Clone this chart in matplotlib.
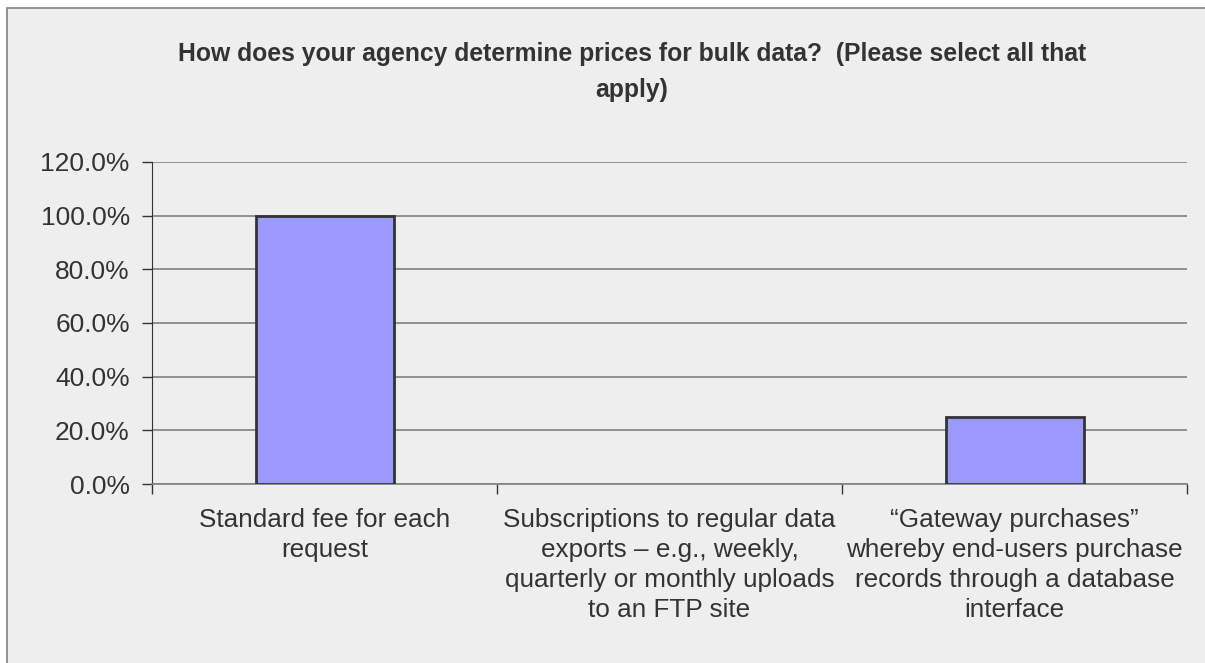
import matplotlib.pyplot as plt
from matplotlib.patches import Rectangle
from matplotlib.ticker import FuncFormatter, FixedLocator

categories = [
    "Standard fee for each\nrequest",
    "Subscriptions to regular data\nexports \u2013 e.g., weekly,\nquarterly or monthly uploads\nto an FTP site",
    "\u201cGateway purchases\u201d\nwhereby end-users purchase\nrecords through a database\ninterface",
]
shares = [1.0, 0.0, 0.25]
y_ticks = [0.0, 0.2, 0.4, 0.6, 0.8, 1.0, 1.2]
title = "How does your agency determine prices for bulk data?  (Please select all that\napply)"

plt.rcParams['font.family'] = ['Liberation Sans', 'DejaVu Sans']
text_color = '#333333'

W, H = 1205, 663
fig = plt.figure(figsize=(W / 100, H / 100), dpi=100, facecolor='white')

# chart area box with grey border (cut off at right/bottom in the original)
fig.patches.append(Rectangle((7 / W, -0.1), 1.2, 1 - 8 / H + 0.1,
                             transform=fig.transFigure, facecolor='#eeeeee',
                             edgecolor='#808080', linewidth=1.2, zorder=-5))

ax = fig.add_axes([152 / W, (H - 484) / H, (1187 - 152) / W, (484 - 162) / H])
ax.set_facecolor('none')

x = list(range(len(categories)))
# empty categories get no outline, as in the original
edges = ['#333333' if v > 0 else 'none' for v in shares]
ax.bar(x, shares, width=0.4, color='#9999ff', edgecolor=edges, linewidth=2, zorder=3)

ax.set_xlim(-0.5, len(categories) - 0.5)
ax.set_ylim(0, 1.2)
ax.set_yticks(y_ticks)
ax.yaxis.set_major_formatter(FuncFormatter(lambda v, p: f"{v * 100:.1f}%"))
ax.yaxis.grid(True, color='#808080', linewidth=1.2, zorder=1)
ax.set_axisbelow(True)

ax.set_xticks(x)
ax.set_xticklabels(categories, fontsize=18.8, color=text_color, linespacing=1.32)
ax.xaxis.set_minor_locator(FixedLocator([i - 0.5 for i in range(len(categories) + 1)]))
ax.tick_params(axis='x', which='major', length=0, pad=17)
ax.tick_params(axis='x', which='minor', length=7, color='#333333', width=1)
ax.tick_params(axis='y', length=7, color='#333333', width=1, labelsize=19,
               labelcolor=text_color, pad=9)

for side in ['top', 'right']:
    ax.spines[side].set_visible(False)
ax.spines['left'].set_color('#333333')
ax.spines['bottom'].set_color('#808080')
ax.spines['bottom'].set_linewidth(1.2)

fig.text(632 / W, 1 - 72 / H, title, ha='center', va='center', fontsize=17.8,
         fontweight='bold', color=text_color, linespacing=1.65)

fig.savefig('out.png', dpi=100)
